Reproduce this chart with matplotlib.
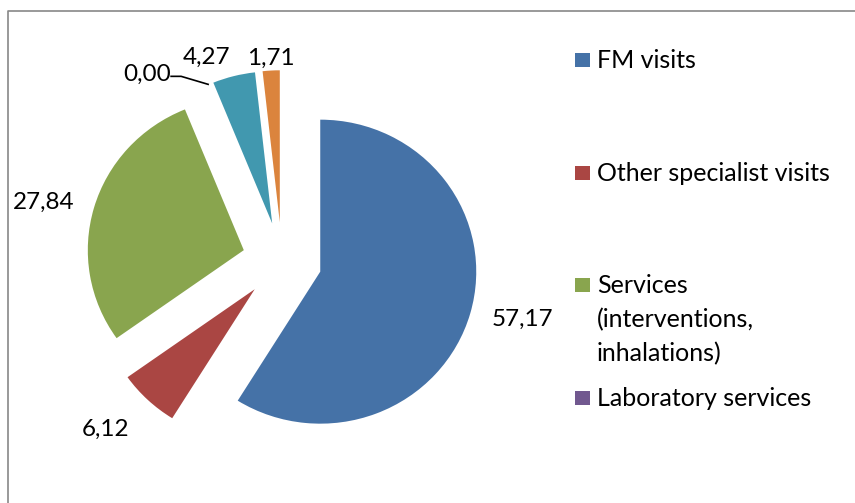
import numpy as np
import matplotlib
matplotlib.use("Agg")
import matplotlib.pyplot as plt
from matplotlib.patches import Rectangle

plt.rcParams['font.family'] = ['Lato', 'DejaVu Sans']

# data
categories = ["FM visits", "Other specialist visits",
              "Services\n(interventions,\ninhalations)", "Laboratory services",
              "Other 1", "Other 2"]
values = [57.17, 6.12, 27.84, 0.00, 4.27, 1.71]
colors = ["#4572A7", "#AA4643", "#89A54E", "#71588F", "#4198AF", "#DB843D"]
legend_n = 4  # only the first four fit in the visible legend

W, H = 855, 503
cx, cy = 282, 261      # pie centre in pixels
Rx, Ry = 156, 152      # pixels per unit radius
expl = 0.255

fig = plt.figure(figsize=(W / 100, H / 100), dpi=100)
ax = fig.add_axes([0, 0, 1, 1])
wedges, _ = ax.pie(values, colors=colors, startangle=90, counterclock=False,
                   explode=[expl] * len(values), radius=1,
                   wedgeprops=dict(linewidth=0))
ax.set_aspect('auto')
ax.set_xlim(-cx / Rx, (W - cx) / Rx)
ax.set_ylim(-(H - cy) / Ry, cy / Ry)
ax.axis('off')

# data labels (outside end)
label_dist = [1.14, 1.17, 1.13, None, 1.08, 1.04]
for w, v, d in zip(wedges, values, label_dist):
    mid = np.deg2rad((w.theta1 + w.theta2) / 2)
    ox, oy = w.center
    txt = f"{v:.2f}".replace('.', ',')
    if d is None:
        # zero slice: leader line from arc point
        px, py = ox + np.cos(mid), oy + np.sin(mid)
        ex, ey = px - 27 / Rx, py + 8 / Ry
        fx = ex - 10 / Rx
        ax.plot([px, ex, fx], [py, ey, ey], color='black', lw=1.2)
        ax.text(fx, ey + 2 / Ry, txt, ha='right', va='center', fontsize=17.5)
        continue
    c, s = np.cos(mid), np.sin(mid)
    x, y = ox + d * c, oy + d * s
    ha = 'left' if c > 0.2 else ('right' if c < -0.2 else 'center')
    if s > 0.6:
        va = 'baseline'
    elif s < -0.6:
        va = 'top'
    else:
        va = 'center'
    ax.text(x, y, txt, ha=ha, va=va, fontsize=17.5)

# overlay in pixel coordinates: border + legend
ov = fig.add_axes([0, 0, 1, 1])
ov.set_xlim(0, W)
ov.set_ylim(H, 0)
ov.axis('off')
ov.plot([7.5, 7.5, W + 5], [H + 5, 10.5, 10.5], color='#888888', lw=1.2)

leg_y = [60, 173, 285, 398]
for lab, col, ly in zip(categories[:legend_n], colors[:legend_n], leg_y):
    ov.add_patch(Rectangle((575, ly - 7), 15, 14, color=col, lw=0))
    ov.text(597, ly - 11, lab, ha='left', va='top', fontsize=18,
            linespacing=1.55)

fig.savefig("out.png", dpi=100)
